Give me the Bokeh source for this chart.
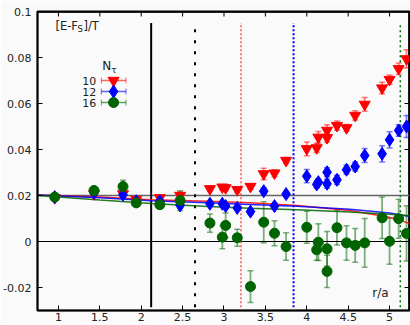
from bokeh.plotting import figure
from bokeh.models import (Range1d, FixedTicker, CustomJSTickFormatter,
                          Whisker, ColumnDataSource, TeeHead)
from bokeh.core.properties import value
from bokeh.embed import file_html
from bokeh.resources import INLINE

# ---------------- data ----------------
r = [0.955, 1.43, 1.78, 1.94, 2.225, 2.47, 2.83, 2.98, 3.02, 3.16, 3.32, 3.48, 3.61,
     3.75, 4.0, 4.12, 4.14, 4.245, 4.245, 4.365, 4.48, 4.585, 4.70, 4.91, 5.0, 5.11, 5.205]

v10 = [0.0190, 0.0207, 0.0207, 0.0183, 0.0190, 0.0200, 0.0229, 0.0236, 0.0233, 0.0225,
       0.0239, 0.0294, 0.0297, 0.0352, 0.0403, 0.0407, 0.0453, 0.0483, 0.0451, 0.0504,
       0.0494, 0.0548, 0.0596, 0.0667, 0.0704, 0.0751, 0.0794]
e10 = [0.0008, 0.0008, 0.0008, 0.0008, 0.0008, 0.0015, 0.0012, 0.0012, 0.0012, 0.0012,
       0.0012, 0.0025, 0.0015, 0.0013, 0.0030, 0.0020, 0.0025, 0.0025, 0.0020, 0.0020,
       0.0015, 0.0020, 0.0030, 0.0025, 0.0020, 0.0025, 0.0040]

v12 = [0.0193, 0.0212, 0.0203, 0.0175, 0.0175, 0.0157, 0.0164, 0.0164, 0.0154, 0.0146,
       0.0130, 0.0219, 0.0154, 0.0206, 0.0284, 0.0248, 0.0258, 0.0301, 0.0251, 0.0268,
       0.0312, 0.0326, 0.0374, 0.0381, 0.0442, 0.0483, 0.0500]
e12 = [0.0008, 0.0008, 0.0008, 0.0008, 0.0008, 0.0012, 0.0010, 0.0010, 0.0010, 0.0010,
       0.0012, 0.0015, 0.0012, 0.0012, 0.0029, 0.0015, 0.0015, 0.0020, 0.0020, 0.0020,
       0.0020, 0.0020, 0.0030, 0.0035, 0.0035, 0.0025, 0.0048]

v16 = [0.0193, 0.0222, 0.0239, 0.0168, 0.0160, 0.0178, 0.0080, 0.0019, 0.0070, 0.0016,
       -0.0196, 0.0084, 0.0036, -0.0022, 0.0062, -0.0036, -0.0003, -0.0032, -0.0130, 0.0060,
       -0.0006, -0.0017, -0.0006, 0.0103, 0.0001, 0.0099, 0.0035]
e16 = [0.0008, 0.0010, 0.0027, 0.0015, 0.0015, 0.0043, 0.0040, 0.0050, 0.0054, 0.0037,
       0.0069, 0.0089, 0.0054, 0.0060, 0.0070, 0.0045, 0.0080, 0.0075, 0.0070, 0.0075,
       0.0075, 0.0073, 0.0106, 0.0090, 0.0100, 0.0085, 0.0120]

fit_r = [0.75, 1.5, 2.12, 2.8, 3.31, 3.88, 4.52, 5.0, 5.25]
fit10 = [0.0202, 0.0193, 0.0182, 0.0175, 0.0168, 0.0157, 0.0135, 0.0105, 0.0078]
fit12 = [0.0202, 0.0190, 0.0177, 0.0168, 0.0161, 0.0153, 0.0140, 0.0124, 0.0109]
fit16 = [0.0200, 0.0180, 0.0165, 0.0152, 0.0145, 0.0138, 0.0128, 0.0119, 0.0112]

vline_r = [2.12, 2.65, 3.205, 3.84, 5.13]
vline_color = ["black", "black", "#ff5050", "#0000ff", "#007000"]
vline_dash = ["solid", "3 8", "2 2", "2 2", "2 3"]
vline_width = [2, 2, 1.5, 2, 1.5]

nt_labels = ["10", "12", "16"]
x_ticks = [1, 1.5, 2, 2.5, 3, 3.5, 4, 4.5, 5]
y_ticks = [-0.02, 0, 0.02, 0.04, 0.06, 0.08, 0.1]

FONT = "DejaVu Sans"
BG = "#fafafa"
RED, BLUE, GREEN = "#ff0000", "#0000ff", "#006400"
X0, X1, Y0, Y1 = 0.747, 5.241, -0.03, 0.1

p = figure(width=410, height=325, output_backend="svg", toolbar_location=None,
           x_range=Range1d(X0, X1), y_range=Range1d(Y0, Y1),
           min_border_left=37, min_border_right=1, min_border_top=11, min_border_bottom=15,
           background_fill_color=BG, border_fill_color=BG)
p.grid.visible = False
p.outline_line_color = "black"
p.outline_line_width = 2

fmt = CustomJSTickFormatter(code="return (Math.round(tick*1e4)/1e4).toString();")
for ax in (p.xaxis[0], p.yaxis[0]):
    ax.formatter = fmt
    ax.major_tick_in = 5
    ax.major_tick_out = 0
    ax.minor_tick_line_color = None
    ax.axis_line_color = "black"
    ax.axis_line_width = 1.5
    ax.major_tick_line_color = "black"
    ax.major_label_text_font = FONT
    ax.major_label_text_font_size = "11px"
    ax.major_label_text_color = "#222222"
p.xaxis[0].ticker = FixedTicker(ticks=x_ticks)
p.yaxis[0].ticker = FixedTicker(ticks=y_ticks)
p.xaxis[0].major_label_standoff = 2
p.yaxis[0].major_label_standoff = 6

# top and right frame edges with mirrored inward ticks
tick_dy = (Y1 - Y0) * 5 / 299
tick_dx = (X1 - X0) * 5 / 373
p.segment(x0=[X0], y0=[Y1], x1=[X1], y1=[Y1], line_color="black", line_width=2.5)
p.segment(x0=[X1], y0=[Y0], x1=[X1], y1=[Y1], line_color="black", line_width=2.5)
p.segment(x0=x_ticks, y0=[Y1] * len(x_ticks), x1=x_ticks, y1=[Y1 - tick_dy] * len(x_ticks),
          line_color="black", line_width=1)
p.segment(x0=[X1] * len(y_ticks), y0=y_ticks, x1=[X1 - tick_dx] * len(y_ticks), y1=y_ticks,
          line_color="black", line_width=1)

# horizontal reference lines
p.segment(x0=[X0], y0=[0.0], x1=[X1], y1=[0.0], line_color="black", line_width=1.2)
p.segment(x0=[X0], y0=[0.02], x1=[X1], y1=[0.02], line_color="#666666", line_width=1.5)

# vertical lines
for xv, c, d, w in zip(vline_r, vline_color, vline_dash, vline_width):
    p.segment(x0=[xv], y0=[-0.0286], x1=[xv], y1=[0.095], line_color=c,
              line_dash=d, line_width=w)

# fit curves
p.line(fit_r, fit10, line_color=RED, line_width=1.5, line_alpha=0.85)
p.line(fit_r, fit12, line_color=BLUE, line_width=1.5, line_alpha=0.85)
p.line(fit_r, fit16, line_color=GREEN, line_width=1.5, line_alpha=0.85)

def series(vals, errs, color, marker, size):
    src = ColumnDataSource(dict(x=r, y=vals,
                                lo=[v - e for v, e in zip(vals, errs)],
                                hi=[v + e for v, e in zip(vals, errs)]))
    w = Whisker(source=src, base="x", lower="lo", upper="hi", line_color=color,
                line_alpha=0.5, line_width=1.8,
                upper_head=TeeHead(size=6, line_color=color, line_alpha=0.5, line_width=1.5),
                lower_head=TeeHead(size=6, line_color=color, line_alpha=0.5, line_width=1.5))
    p.add_layout(w)
    p.scatter("x", "y", source=src, marker=marker, size=size, fill_color=color,
              line_color=color)

series(v10, e10, RED, "inverted_triangle", 11)
series(v12, e12, BLUE, "diamond", 13)
series(v16, e16, GREEN, "circle", 10)

# legend (drawn by hand: label left of symbol)
leg_y = [0.0700, 0.0652, 0.0604]
leg_colors = [RED, BLUE, GREEN]
leg_markers = ["inverted_triangle", "diamond", "circle"]
leg_sizes = [11, 13, 10]
p.text(x=[1.458] * 3, y=leg_y, text=nt_labels, text_font=value(FONT),
       text_font_size="11px", text_color="#222222", text_align="right",
       text_baseline="middle")
for yy, c, m, s in zip(leg_y, leg_colors, leg_markers, leg_sizes):
    src = ColumnDataSource(dict(y=[yy], lo=[1.518], hi=[1.816]))
    p.add_layout(Whisker(source=src, base="y", lower="lo", upper="hi", dimension="width",
                         line_color=c, line_alpha=0.6, line_width=1.5,
                         upper_head=TeeHead(size=6, line_color=c, line_alpha=0.6),
                         lower_head=TeeHead(size=6, line_color=c, line_alpha=0.6)))
    p.scatter(x=[1.666], y=[yy], marker=m, size=s, fill_color=c, line_color=c)
p.text(x=[1.53], y=[0.0761], text=["N"], text_font=value(FONT), text_font_size="12px",
       text_color="#222222", text_baseline="middle")
p.text(x=[1.53], y=[0.0761], text=["τ"], x_offset=9, y_offset=4, text_font=value(FONT),
       text_font_size="9px", text_color="#222222", text_baseline="middle")

# y label inside the frame
p.text(x=[0.964], y=[0.0935], text=["[E-F"], text_font=value(FONT), text_font_size="11.5px",
       text_color="#222222", text_baseline="middle")
p.text(x=[0.964], y=[0.0935], text=["S"], x_offset=22, y_offset=3, text_font=value(FONT),
       text_font_size="8.5px", text_color="#222222", text_baseline="middle")
p.text(x=[0.964], y=[0.0935], text=["]/T"], x_offset=28, text_font=value(FONT),
       text_font_size="11.5px", text_color="#222222", text_baseline="middle")

# x label inside the frame
p.text(x=[4.89], y=[-0.0226], text=["r/a"], text_font=value(FONT), text_font_size="12px",
       text_color="#222222", text_align="center", text_baseline="middle")

open("out.html", "w").write(file_html(p, INLINE))
